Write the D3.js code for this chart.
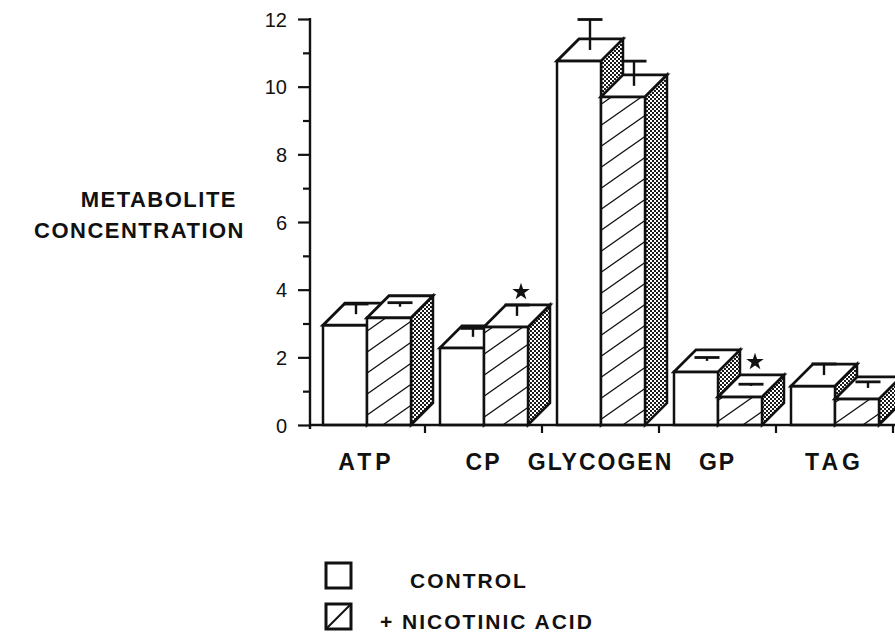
<!DOCTYPE html>
<html>
<head>
<meta charset="utf-8">
<script src="https://cdn.jsdelivr.net/npm/d3@7"></script>
<style>
  html, body { margin: 0; padding: 0; background: #fff; }
  svg { display: block; }
  text { font-family: "Liberation Sans", Arial, Helvetica, sans-serif; fill: #111; }
</style>
</head>
<body>
<svg id="chart" width="895" height="636"></svg>
<script>
// Metabolite concentrations, control vs. nicotinic acid treatment
const categories = ["ATP", "CP", "GLYCOGEN", "GP", "TAG"];
const controlValues = [2.95, 2.28, 10.76, 1.57, 1.15];
const controlErrors = [0.30, 0.25, 0.90, 0.10, 0.33];
const nicotinicValues = [3.17, 2.90, 9.70, 0.83, 0.77];
const nicotinicErrors = [0.12, 0.32, 0.73, 0.05, 0.18];
const significant = ["CP", "GP"];          // starred: treated differs from control
const yTicks = [0, 2, 4, 6, 8, 10, 12];
const seriesNames = ["CONTROL", "+ NICOTINIC ACID"];
const yLabelLines = ["METABOLITE", "CONCENTRATION"];

const svg = d3.select("#chart");
const ink = "#111";
const depth = 22;           // oblique depth of the 3-D boxes

const y = d3.scaleLinear().domain([0, 12]).range([425, 19]);
const x = d3.scaleBand().domain(categories).range([308, 893]);
const inner = d3.scaleBand().domain(["control", "nicotinic"]).range([15, 103]);

// fill patterns
const defs = svg.append("defs");
const hatch = defs.append("pattern")
  .attr("id", "hatch").attr("patternUnits", "userSpaceOnUse")
  .attr("width", 30).attr("height", 21);
hatch.append("rect").attr("width", 30).attr("height", 21).attr("fill", "#fff");
hatch.append("path")
  .attr("d", "M-30,21L0,0M0,21L30,0M30,21L60,0M0,42L30,21M0,0L30,-21")
  .attr("stroke", ink).attr("stroke-width", 1.3);

const dots = defs.append("pattern")
  .attr("id", "dots").attr("patternUnits", "userSpaceOnUse")
  .attr("width", 4).attr("height", 4);
dots.append("rect").attr("width", 4).attr("height", 4).attr("fill", "#fff");
dots.append("rect").attr("width", 2).attr("height", 2).attr("fill", "#1a1a1a");
dots.append("rect").attr("x", 2).attr("y", 2).attr("width", 2).attr("height", 2).attr("fill", "#1a1a1a");

// bars
const rows = categories.map((c, i) => ({
  cat: c,
  bars: [
    { key: "control", v: controlValues[i], e: controlErrors[i] },
    { key: "nicotinic", v: nicotinicValues[i], e: nicotinicErrors[i] }
  ]
}));

const plot = svg.append("g");
rows.forEach(row => {
  row.bars.forEach(b => {
    const x0 = x(row.cat) + inner(b.key);
    const w = inner.bandwidth();
    const yt = y(b.v), yb = y(0);
    const g = plot.append("g")
      .attr("stroke", ink).attr("stroke-width", 2.5).attr("stroke-linejoin", "miter");
    // side face
    g.append("path")
      .attr("d", `M${x0 + w},${yt}L${x0 + w + depth},${yt - depth}L${x0 + w + depth},${yb - depth}L${x0 + w},${yb}Z`)
      .attr("fill", "url(#dots)");
    // front face
    g.append("rect")
      .attr("x", x0).attr("y", yt).attr("width", w).attr("height", yb - yt)
      .attr("fill", b.key === "control" ? "#fff" : "url(#hatch)");
    // top face
    g.append("path")
      .attr("d", `M${x0},${yt}L${x0 + w},${yt}L${x0 + w + depth},${yt - depth}L${x0 + depth},${yt - depth}Z`)
      .attr("fill", "#fff").attr("stroke-width", 2.8);
    // error bar rising from the middle of the top face
    const ex = x0 + w / 2 + depth / 2;
    const eb = yt - depth / 2;
    const et = y(b.v + b.e) - depth / 2;
    const eg = plot.append("g").attr("stroke", ink).attr("stroke-width", 2.4);
    eg.append("line").attr("x1", ex).attr("x2", ex).attr("y1", eb).attr("y2", et);
    eg.append("line").attr("x1", ex - 12.5).attr("x2", ex + 12.5).attr("y1", et).attr("y2", et)
      .attr("stroke-width", 2.8);
    if (b.key === "nicotinic" && significant.includes(row.cat)) {
      plot.append("path")
        .attr("d", d3.symbol(d3.symbolStar, 95)())
        .attr("transform", `translate(${ex + 4},${yt - 35})`)
        .attr("fill", ink);
    }
  });
});

// y axis
const yAxis = d3.axisLeft(y)
  .tickValues(d3.range(0, 13))
  .tickFormat(d => yTicks.includes(d) ? d : "")
  .tickSize(12).tickSizeOuter(0).tickPadding(11);
const ya = svg.append("g").attr("transform", "translate(310,0)").call(yAxis);
ya.select(".domain").remove();
ya.selectAll(".tick line").attr("stroke", ink).attr("stroke-width", 2.2)
  .attr("x2", d => yTicks.includes(d) ? -12 : -7);
ya.selectAll(".tick text").attr("font-size", 20).attr("dy", "0.36em");
svg.append("line").attr("x1", 310).attr("x2", 310).attr("y1", 18).attr("y2", 429)
  .attr("stroke", ink).attr("stroke-width", 2.4);

// x axis
svg.append("line").attr("x1", 309).attr("x2", 895).attr("y1", y(0)).attr("y2", y(0))
  .attr("stroke", ink).attr("stroke-width", 2.4);
svg.append("g").selectAll("line")
  .data(categories)
  .join("line")
  .attr("x1", c => x(c) + x.bandwidth()).attr("x2", c => x(c) + x.bandwidth())
  .attr("y1", y(0)).attr("y2", y(0) + 8)
  .attr("stroke", ink).attr("stroke-width", 2.2);
const xAxis = d3.axisBottom(x).tickSize(0).tickPadding(0);
const xa = svg.append("g").attr("transform", `translate(0,${y(0)})`).call(xAxis);
xa.select(".domain").remove();
xa.selectAll(".tick text")
  .attr("font-size", 23).attr("font-weight", "bold")
  .attr("letter-spacing", d => d.length === 3 ? 4 : 2)
  .attr("y", 45).attr("dy", 0);

// y label
svg.append("g").selectAll("text")
  .data(yLabelLines)
  .join("text")
  .attr("x", (d, i) => i === 0 ? 237 : 245)
  .attr("y", (d, i) => i === 0 ? 207 : 238)
  .attr("text-anchor", "end")
  .attr("font-size", 22).attr("font-weight", "bold").attr("letter-spacing", 1.5)
  .text(d => d);

// legend
const legend = svg.append("g");
seriesNames.forEach((name, i) => {
  const by = 563 + i * 41;
  legend.append("rect")
    .attr("x", 326).attr("y", by).attr("width", 25).attr("height", 25)
    .attr("fill", "#fff").attr("stroke", ink).attr("stroke-width", 3);
  if (i === 1) {
    legend.append("line")
      .attr("x1", 327).attr("y1", by + 24).attr("x2", 350).attr("y2", by + 1)
      .attr("stroke", ink).attr("stroke-width", 2);
  }
  legend.append("text")
    .attr("x", i === 0 ? 410 : 380).attr("y", by + 25)
    .attr("font-size", 21).attr("font-weight", "bold").attr("letter-spacing", 2)
    .text(name);
});
</script>
</body>
</html>
